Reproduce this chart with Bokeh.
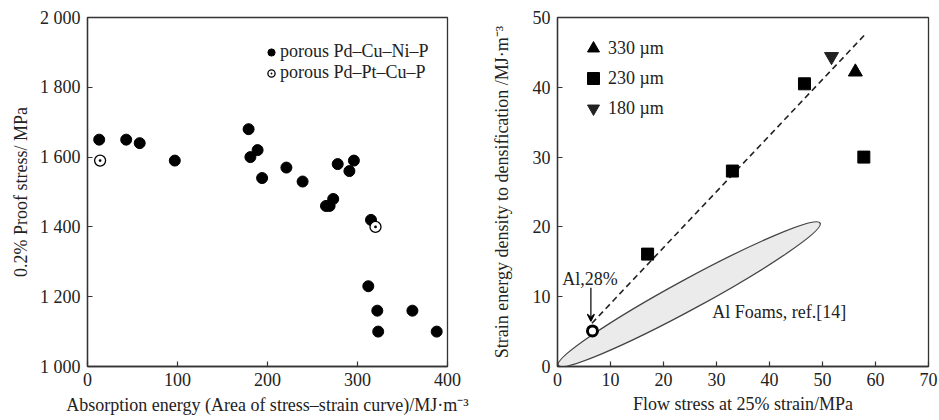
from bokeh.plotting import figure
from bokeh.models import Legend, LegendItem, FixedTicker, Arrow, VeeHead, Range1d, Label
from bokeh.layouts import row
from bokeh.embed import file_html
from bokeh.resources import INLINE

# ---------------- data: left panel ----------------
pdcuni_energy = [13, 43, 58, 97, 179, 181, 189, 194, 221, 239, 265, 269, 273, 278, 291, 296, 315, 312, 322, 323, 361, 388]
pdcuni_stress = [1650, 1650, 1640, 1590, 1680, 1600, 1620, 1540, 1570, 1530, 1460, 1460, 1480, 1580, 1560, 1590, 1420, 1230, 1160, 1100, 1160, 1100]
pdptcup_energy = [14, 320]
pdptcup_stress = [1590, 1400]
left_xticks = [0, 100, 200, 300, 400]
left_yticks = [1000, 1200, 1400, 1600, 1800, 2000]
left_ytick_labels = ["1 000", "1 200", "1 400", "1 600", "1 800", "2 000"]

# ---------------- data: right panel ----------------
s330_flow = [56.2]
s330_energy = [42.2]
s230_flow = [17.0, 33.0, 46.6, 57.8]
s230_energy = [16.1, 28.0, 40.5, 30.0]
s180_flow = [51.7]
s180_energy = [44.4]
al28_flow = [6.6]
al28_energy = [5.1]
fit_flow = [6.5, 58.2]
fit_energy = [6.2, 47.7]
foam_center_flow = [24.85]
foam_center_energy = [10.35]
right_xticks = [0, 10, 20, 30, 40, 50, 60, 70]
right_yticks = [0, 10, 20, 30, 40, 50]

FONT = "Liberation Serif"
FS = "18px"
INK = "#222222"


def style(p):
    p.xgrid.visible = False
    p.ygrid.visible = False
    p.outline_line_color = "#333333"
    p.outline_line_width = 1.3
    p.background_fill_color = "white"
    p.border_fill_color = "white"
    for ax in p.axis:
        ax.major_tick_in = 5
        ax.major_tick_out = 0
        ax.minor_tick_in = 0
        ax.minor_tick_out = 0
        ax.axis_line_color = "#333333"
        ax.axis_line_width = 1.3
        ax.major_tick_line_color = "#333333"
        ax.major_tick_line_width = 1.2
        ax.major_label_text_font = FONT
        ax.major_label_text_font_size = FS
        ax.major_label_text_color = INK
        ax.axis_label_text_font = FONT
        ax.axis_label_text_font_size = FS
        ax.axis_label_text_font_style = "normal"
        ax.axis_label_text_color = INK


# ---------------- left figure ----------------
p1 = figure(width=470, height=418, x_range=Range1d(0, 400), y_range=Range1d(1000, 2000),
            output_backend="svg", toolbar_location=None,
            min_border_left=87, min_border_right=23, min_border_top=17, min_border_bottom=52)
style(p1)
p1.xaxis.ticker = FixedTicker(ticks=left_xticks)
p1.yaxis.ticker = FixedTicker(ticks=left_yticks)
p1.yaxis.major_label_overrides = dict(zip(left_yticks, left_ytick_labels))
p1.xaxis.axis_label = "Absorption energy (Area of stress\u2013strain curve)/MJ\u00b7m\u207b\u00b3"
p1.yaxis.axis_label = "0.2% Proof stress/ MPa"
p1.xaxis.major_label_standoff = 6
p1.yaxis.major_label_standoff = 7
p1.xaxis.axis_label_standoff = 6
p1.yaxis.axis_label_standoff = 6

r1 = p1.scatter(pdcuni_energy, pdcuni_stress, marker="circle", size=11,
                fill_color="black", line_color="black")
r2 = p1.scatter(pdptcup_energy, pdptcup_stress, marker="circle_dot", size=11,
                fill_color="white", line_color="black", line_width=1.3)

leg1 = Legend(items=[LegendItem(label="porous Pd\u2013Cu\u2013Ni\u2013P", renderers=[r1]),
                     LegendItem(label="porous Pd\u2013Pt\u2013Cu\u2013P", renderers=[r2])],
              location=(175, 283), glyph_width=18, glyph_height=20, label_height=20,
              label_standoff=0, spacing=0, padding=0, margin=0,
              border_line_alpha=0, background_fill_alpha=0,
              label_text_font=FONT, label_text_font_size=FS, label_text_color=INK)
p1.add_layout(leg1)

# ---------------- right figure ----------------
p2 = figure(width=469, height=418, x_range=Range1d(0, 70), y_range=Range1d(0, 50),
            output_backend="svg", toolbar_location=None,
            min_border_left=87, min_border_right=11, min_border_top=17, min_border_bottom=52)
style(p2)
p2.xaxis.ticker = FixedTicker(ticks=right_xticks)
p2.yaxis.ticker = FixedTicker(ticks=right_yticks)
p2.xaxis.axis_label = "Flow stress at 25% strain/MPa"
p2.yaxis.axis_label = "Strain energy density to densification /MJ\u00b7m\u207b\u00b3"
p2.xaxis.major_label_standoff = 6
p2.yaxis.major_label_standoff = 7
p2.xaxis.axis_label_standoff = 5
p2.yaxis.axis_label_standoff = 18

p2.ellipse(x=foam_center_flow, y=foam_center_energy, width=298, height=30, angle=0.498,
           width_units="screen", height_units="screen",
           fill_color="#ebebeb", line_color="#444444", line_width=1.3)
p2.line(fit_flow, fit_energy, line_dash="6 4", line_width=1.6, line_color=INK)

q1 = p2.scatter(s330_flow, s330_energy, marker="triangle", size=14, fill_color="black", line_color="black")
q2 = p2.scatter(s230_flow, s230_energy, marker="square", size=12, fill_color="black", line_color="black")
q3 = p2.scatter(s180_flow, s180_energy, marker="inverted_triangle", size=14, fill_color="#222222", line_color="#222222")
p2.scatter(al28_flow, al28_energy, marker="circle", size=10, fill_color="white", line_color="black", line_width=3)

p2.add_layout(Arrow(end=VeeHead(size=7, line_color="black", line_width=1.2),
                    x_start=6.3, y_start=11.3, x_end=6.3, y_end=6.5,
                    line_color="black", line_width=1.2))
p2.add_layout(Label(x=0.9, y=12.6, text="Al,28%", text_font=FONT, text_font_size=FS,
                    text_color=INK, text_baseline="middle"))
p2.add_layout(Label(x=29.2, y=7.8, text="Al Foams, ref.[14]", text_font=FONT, text_font_size=FS,
                    text_color=INK, text_baseline="middle"))

leg2 = Legend(items=[LegendItem(label="330 \u00b5m", renderers=[q1]),
                     LegendItem(label="230 \u00b5m", renderers=[q2]),
                     LegendItem(label="180 \u00b5m", renderers=[q3])],
              location=(21, 243), glyph_width=30, glyph_height=30, label_height=30,
              label_standoff=0, spacing=0, padding=0, margin=0,
              border_line_alpha=0, background_fill_alpha=0,
              label_text_font=FONT, label_text_font_size=FS, label_text_color=INK)
p2.add_layout(leg2)

layout = row(p1, p2)
open("out.html", "w").write(file_html(layout, INLINE))
